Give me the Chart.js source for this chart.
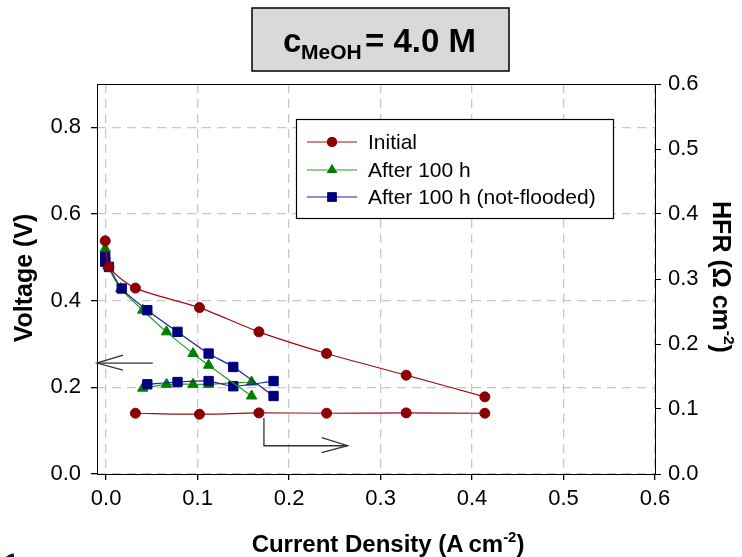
<!DOCTYPE html>
<html>
<head>
<meta charset="utf-8">
<script src="https://cdn.jsdelivr.net/npm/chart.js@4/dist/chart.umd.min.js"></script>
<style>
  body { margin: 0; background: #fff; }
</style>
</head>
<body>
<canvas id="chart" width="742" height="557"></canvas>
<script>
// current density (A cm-2) and voltage (V)
const currentInitial = [-0.001, 0.003, 0.032, 0.102, 0.167, 0.241, 0.328, 0.414];
const voltageInitial = [0.538, 0.478, 0.429, 0.384, 0.328, 0.278, 0.228, 0.178];
const currentAfter = [-0.001, 0.002, 0.016, 0.040, 0.066, 0.095, 0.112, 0.159];
const voltageAfter = [0.520, 0.480, 0.428, 0.378, 0.328, 0.278, 0.251, 0.180];
const currentNotFlooded = [-0.001, -0.001, 0.003, 0.017, 0.045, 0.078, 0.112, 0.139, 0.183];
const voltageNotFlooded = [0.501, 0.490, 0.478, 0.428, 0.378, 0.328, 0.278, 0.247, 0.180];

// HFR (Ohm cm-2)
const hfrCurrentInitial = [0.032, 0.102, 0.167, 0.241, 0.328, 0.414];
const hfrInitial = [0.0935, 0.092, 0.094, 0.0935, 0.094, 0.0935];
const hfrCurrentAfter = [0.040, 0.066, 0.095, 0.112, 0.159];
const hfrAfter = [0.132, 0.138, 0.138, 0.138, 0.1415];
const hfrCurrentNotFlooded = [0.045, 0.078, 0.112, 0.139, 0.183];
const hfrNotFlooded = [0.138, 0.1415, 0.143, 0.135, 0.143];

const xTicks = [0, 0.1, 0.2, 0.3, 0.4, 0.5, 0.6];
const voltageTicks = [0, 0.2, 0.4, 0.6, 0.8];
const hfrTicks = [0, 0.1, 0.2, 0.3, 0.4, 0.5, 0.6];
const legendOrder = ['Initial', 'After 100 h', 'After 100 h (not-flooded)'];

const pts = (xs, ys) => xs.map((x, i) => ({ x: x, y: ys[i] }));

const red = '#8b0000', green = '#008000', blue = '#00007f';
const font = 'Liberation Sans, Arial, sans-serif';
const narrow = 'Liberation Sans Narrow, Arial Narrow, Liberation Sans, sans-serif';

function series(label, xs, ys, color, lineColor, style, radius, axis) {
  return {
    label: label,
    data: pts(xs, ys),
    yAxisID: axis,
    borderColor: lineColor,
    backgroundColor: color,
    pointBackgroundColor: color,
    pointBorderColor: color,
    pointBorderWidth: 1,
    pointStyle: style,
    pointRadius: radius,
    borderWidth: 1.2,
    tension: 0.25,
    showLine: true
  };
}

function textRun(ctx, parts, size) {
  // parts: [text, isSup]
  let w = 0;
  parts.forEach(p => {
    ctx.font = 'bold ' + (p[1] ? size * 0.62 : size) + 'px ' + font;
    w += ctx.measureText(p[0]).width;
  });
  let x = -w / 2;
  parts.forEach(p => {
    const s = p[1] ? size * 0.62 : size;
    ctx.font = 'bold ' + s + 'px ' + font;
    ctx.fillText(p[0], x, p[1] ? -size * 0.42 : 0);
    x += ctx.measureText(p[0]).width;
  });
}

function arrowHead(ctx, x, y, dir) {
  ctx.beginPath();
  ctx.moveTo(x + dir * 26, y - 8);
  ctx.lineTo(x, y);
  ctx.lineTo(x + dir * 26, y + 7);
  ctx.stroke();
}

const decorations = {
  id: 'decorations',
  afterDraw(chart) {
    const ctx = chart.ctx;
    const a = chart.chartArea;
    const sx = chart.scales.x, sy = chart.scales.y, sh = chart.scales.y1;
    ctx.save();

    // plot frame
    ctx.strokeStyle = '#000';
    ctx.lineWidth = 1;
    ctx.strokeRect(a.left + 0.5, a.top + 0.5, a.right - a.left, a.bottom - a.top);

    // arrow to voltage axis
    ctx.strokeStyle = '#333';
    ctx.lineWidth = 1.3;
    const ay = sy.getPixelForValue(0.256);
    ctx.beginPath();
    ctx.moveTo(sx.getPixelForValue(0.051), ay);
    ctx.lineTo(a.left, ay);
    ctx.stroke();
    arrowHead(ctx, a.left, ay, 1);

    // arrow to HFR axis
    const bx = sx.getPixelForValue(0.1725);
    const by = sh.getPixelForValue(0.0435);
    const ex = sx.getPixelForValue(0.264);
    ctx.beginPath();
    ctx.moveTo(bx, sh.getPixelForValue(0.086));
    ctx.lineTo(bx, by);
    ctx.lineTo(ex, by);
    ctx.stroke();
    arrowHead(ctx, ex, by, -1);

    // legend
    ctx.fillStyle = '#fff';
    ctx.fillRect(296, 119, 317, 99);
    ctx.strokeStyle = '#000';
    ctx.lineWidth = 1.2;
    ctx.strokeRect(296.5, 119.5, 317, 99);
    const rows = [142, 170, 197];
    legendOrder.forEach((name, i) => {
      const d = chart.data.datasets.find(s => s.label === name);
      const y = rows[i];
      ctx.strokeStyle = d.borderColor;
      ctx.lineWidth = 1.2;
      ctx.beginPath();
      ctx.moveTo(307, y);
      ctx.lineTo(357, y);
      ctx.stroke();
      ctx.fillStyle = d.pointBackgroundColor;
      Chart.helpers.drawPoint(ctx, { pointStyle: d.pointStyle, radius: d.pointRadius, borderWidth: 0 }, 332, y);
      ctx.fill();
      ctx.fillStyle = '#000';
      ctx.font = '21px ' + font;
      ctx.textBaseline = 'middle';
      ctx.textAlign = 'left';
      ctx.fillText(d.label, 368, y + 1);
    });

    // title box
    ctx.fillStyle = '#d9d9d9';
    ctx.fillRect(252, 8, 257, 63);
    ctx.strokeStyle = '#000';
    ctx.lineWidth = 1.5;
    ctx.strokeRect(252, 8, 257, 63);
    ctx.fillStyle = '#000';
    ctx.textBaseline = 'alphabetic';
    ctx.textAlign = 'left';
    ctx.font = 'bold 33px ' + font;
    ctx.fillText('c', 283, 52);
    ctx.font = 'bold 21px ' + font;
    ctx.fillText('MeOH', 301, 59);
    ctx.font = 'bold 33px ' + font;
    ctx.fillText('= 4.0 M', 365, 52);

    // axis titles
    ctx.textAlign = 'left';
    ctx.textBaseline = 'alphabetic';
    ctx.save();
    ctx.translate(388, 552);
    textRun(ctx, [['Current Density (A\u2009cm', false], ['-2', true], [')', false]], 24);
    ctx.restore();

    ctx.save();
    ctx.translate(32, 278);
    ctx.rotate(-Math.PI / 2);
    textRun(ctx, [['Voltage (V)', false]], 25);
    ctx.restore();

    ctx.save();
    ctx.translate(713, 277);
    ctx.rotate(Math.PI / 2);
    textRun(ctx, [['HFR (\u03a9 cm', false], ['-2', true], [')', false]], 25);
    ctx.restore();

    // logo fragment in the corner
    ctx.strokeStyle = '#10107a';
    ctx.lineWidth = 4;
    ctx.beginPath();
    ctx.arc(16, 568, 13, Math.PI * 0.95, Math.PI * 1.45);
    ctx.stroke();

    ctx.restore();
  }
};

new Chart(document.getElementById('chart'), {
  type: 'scatter',
  data: {
    datasets: [
      series('Initial', currentInitial, voltageInitial, red, '#9a1010', 'circle', 5, 'y'),
      series('After 100 h (not-flooded)', currentNotFlooded, voltageNotFlooded, blue, '#2020a0', 'rect', 6.6, 'y'),
      series('After 100 h', currentAfter, voltageAfter, green, '#22a022', 'triangle', 6, 'y'),
      series('Initial HFR', hfrCurrentInitial, hfrInitial, red, '#9a1010', 'circle', 5, 'y1'),
      series('After 100 h (not-flooded) HFR', hfrCurrentNotFlooded, hfrNotFlooded, blue, '#2020a0', 'rect', 6.6, 'y1'),
      series('After 100 h HFR', hfrCurrentAfter, hfrAfter, green, '#22a022', 'triangle', 6, 'y1')
    ]
  },
  options: {
    responsive: false,
    animation: false,
    layout: { padding: { top: 84, left: 0, right: 0, bottom: 0 } },
    plugins: {
      legend: { display: false },
      tooltip: { enabled: false }
    },
    scales: {
      x: {
        type: 'linear',
        min: -0.01,
        max: 0.6,
        afterBuildTicks: s => { s.ticks = xTicks.map(v => ({ value: v })); },
        afterFit: s => { s.height = 83; },
        ticks: {
          color: '#000',
          font: { family: narrow, size: 22 },
          padding: 6,
          maxRotation: 0,
          callback: v => v.toFixed(1)
        },
        grid: { color: '#c8c8c8', lineWidth: 1.3, tickColor: '#000', tickLength: 6 },
        border: { display: false, dash: [9, 6] }
      },
      y: {
        position: 'left',
        min: 0,
        max: 0.9,
        afterBuildTicks: s => { s.ticks = voltageTicks.map(v => ({ value: v })); },
        afterFit: s => { s.width = 97; },
        ticks: {
          color: '#000',
          font: { family: font, size: 22 },
          padding: 10,
          callback: v => v.toFixed(1)
        },
        grid: { color: '#c8c8c8', lineWidth: 1.3, tickColor: '#000', tickLength: 6 },
        border: { display: false, dash: [9, 6] }
      },
      y1: {
        position: 'right',
        min: 0,
        max: 0.6,
        afterBuildTicks: s => { s.ticks = hfrTicks.map(v => ({ value: v })); },
        afterFit: s => { s.width = 87; },
        ticks: {
          color: '#000',
          font: { family: font, size: 22 },
          padding: 7,
          callback: v => v.toFixed(1)
        },
        grid: { drawOnChartArea: false, tickColor: '#000', tickLength: 6 },
        border: { display: false }
      }
    }
  },
  plugins: [decorations]
});
</script>
</body>
</html>
